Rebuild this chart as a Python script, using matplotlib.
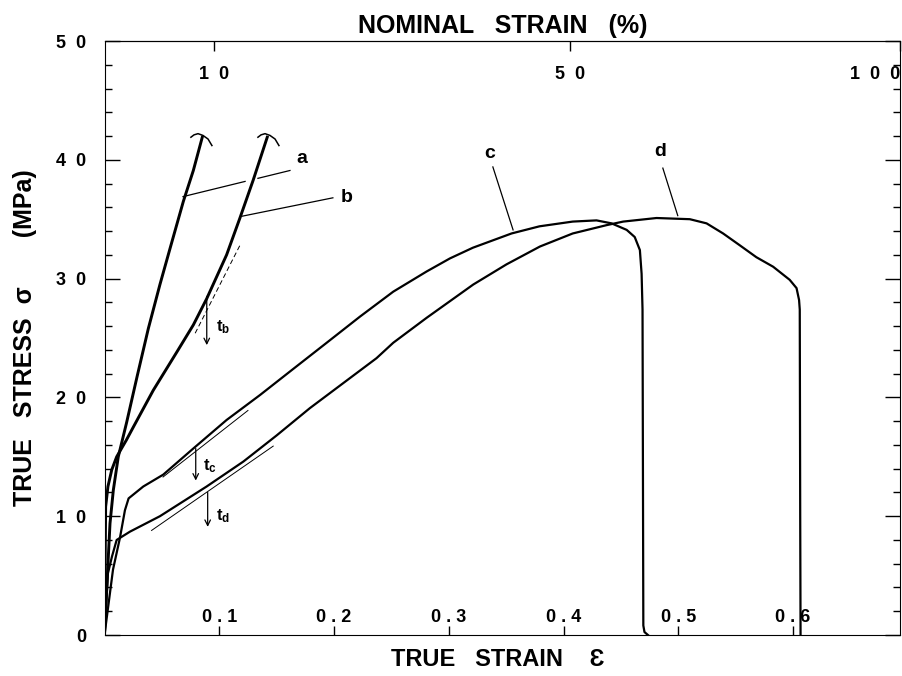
import numpy as np
import matplotlib
matplotlib.use('Agg')
import matplotlib.pyplot as plt
from matplotlib.ticker import MultipleLocator

plt.rcParams['font.family'] = ['Liberation Sans', 'DejaVu Sans']
plt.rcParams['font.weight'] = 'bold'
plt.rcParams['axes.labelweight'] = 'bold'

# true strain / true stress (MPa)
eps_a = [0, 0.0025, 0.0048, 0.0077, 0.012, 0.0193, 0.0285, 0.0382, 0.0483, 0.057, 0.0687, 0.0774, 0.0852]
sig_a = [0, 5.0, 9.4, 12.2, 15.0, 17.9, 21.8, 25.8, 29.5, 32.5, 36.5, 39.1, 41.9]

eps_b = [0, 0.001, 0.003, 0.0063, 0.0106, 0.019, 0.0251, 0.0425, 0.0629, 0.0774, 0.089,
         0.1064, 0.118, 0.1296, 0.1418]
sig_b = [0, 10.8, 12.5, 13.9, 15.0, 16.4, 17.5, 20.6, 23.8, 26.1, 28.3,
         32.0, 35.1, 38.3, 41.9]

eps_c = [0, 0.0074, 0.0135, 0.0178, 0.021, 0.0338, 0.0512, 0.0774, 0.1064, 0.1355, 0.1645,
         0.1936, 0.2226, 0.2516, 0.2807, 0.301, 0.321, 0.3547, 0.379, 0.408, 0.4287,
         0.4418, 0.455, 0.462, 0.4665, 0.468, 0.4688, 0.4695, 0.4705, 0.4735]
sig_c = [0, 5.5, 8.2, 10.5, 11.5, 12.5, 13.5, 15.7, 18.1, 20.2, 22.4,
         24.6, 26.8, 28.9, 30.6, 31.7, 32.6, 33.8, 34.4, 34.8, 34.9,
         34.65, 34.1, 33.5, 32.4, 30.4, 27.4, 0.8, 0.25, 0]

eps_d = [0, 0.003, 0.0065, 0.0106, 0.0222, 0.0483, 0.089, 0.121, 0.150, 0.179, 0.208, 0.237,
         0.2516, 0.2807, 0.301, 0.3213, 0.3503, 0.3794, 0.408, 0.4375, 0.452, 0.481, 0.51,
         0.5246, 0.539, 0.5536, 0.568, 0.5826, 0.597, 0.603, 0.6052, 0.6058, 0.6062, 0.6065]
sig_d = [0, 5.2, 6.6, 8.0, 8.7, 10.0, 12.5, 14.6, 16.8, 19.1, 21.2, 23.3,
         24.6, 26.7, 28.1, 29.5, 31.2, 32.7, 33.8, 34.5, 34.8, 35.1, 35.0,
         34.65, 33.8, 32.8, 31.8, 31.0, 29.9, 29.2, 28.2, 27.4, 10.0, 0]

strain_ticks = [0.1, 0.2, 0.3, 0.4, 0.5, 0.6]
strain_labels = ['0 . 1', '0 . 2', '0 . 3', '0 . 4', '0 . 5', '0 . 6']
stress_ticks = [0, 10, 20, 30, 40, 50]
stress_labels = ['0', '1  0', '2  0', '3  0', '4  0', '5  0']
nominal_ticks = [10, 50, 100]
nominal_labels = ['1  0', '5  0', '1  0  0']


def to_nominal(e):
    return (np.exp(e) - 1) * 100


def to_true(n):
    return np.log(np.clip(1 + np.asarray(n) / 100, 1e-6, None))


fig = plt.figure(figsize=(9.02, 6.76), dpi=100)
ax = fig.add_axes([104.5 / 902, 1 - 635 / 676, (900 - 104.5) / 902, (635 - 41) / 676])

ax.plot(eps_a, sig_a, color='black', lw=2.1, zorder=3)
ax.plot(eps_b, sig_b, color='black', lw=2.1, zorder=3)
ax.plot(eps_c, sig_c, color='black', lw=1.6, zorder=3)
ax.plot(eps_d, sig_d, color='black', lw=1.6, zorder=3)

ax.set_xlim(0, np.log(2))
ax.set_ylim(0, 50)

# little caps at the fracture points of a and b
cap_e = np.array([0.0753, 0.0780, 0.0815, 0.0858, 0.0902, 0.0936])
cap_s = np.array([41.9, 42.1, 42.2, 42.05, 41.75, 41.2])
ax.plot(cap_e, cap_s, color='black', lw=1.1)
ax.plot(cap_e + 0.0584, cap_s, color='black', lw=1.1)

# leader lines and curve labels
ax.plot([0.0684, 0.1225], [36.9, 38.18], color='black', lw=0.9)
ax.plot([0.1337, 0.1616], [38.44, 39.1], color='black', lw=0.9)
ax.plot([0.1198, 0.199], [35.25, 36.8], color='black', lw=0.9)
ax.plot([0.3384, 0.356], [39.4, 34.1], color='black', lw=0.9)
ax.plot([0.4865, 0.4995], [39.3, 35.3], color='black', lw=0.9)
ax.text(0.172, 40.1, 'a', fontsize=14, ha='center', va='center')
ax.text(0.211, 36.8, 'b', fontsize=14, ha='center', va='center')
ax.text(0.336, 40.5, 'c', fontsize=14, ha='center', va='center')
ax.text(0.484, 40.7, 'd', fontsize=14, ha='center', va='center')

# tangent lines
ax.plot([0.079, 0.118], [25.4, 32.8], color='black', lw=0.7, ls=(0, (5, 3)))
ax.plot([0.051, 0.125], [13.3, 18.9], color='black', lw=0.7)
ax.plot([0.041, 0.147], [8.8, 15.9], color='black', lw=0.7)

# transition arrows
arr = dict(arrowstyle='->', lw=0.9, color='black', shrinkA=0, shrinkB=0)
ax.annotate('', xy=(0.0891, 24.4), xytext=(0.0891, 28.5), arrowprops=arr)
ax.annotate('', xy=(0.0795, 13.0), xytext=(0.0795, 15.7), arrowprops=arr)
ax.annotate('', xy=(0.0899, 9.1), xytext=(0.0899, 12.0), arrowprops=arr)
ax.text(0.097, 25.9, r'$\mathregular{t_b}$', fontsize=12, va='center')
ax.text(0.086, 14.2, r'$\mathregular{t_c}$', fontsize=12, va='center')
ax.text(0.097, 10.0, r'$\mathregular{t_d}$', fontsize=12, va='center')

ax.set_xticks(strain_ticks)
ax.set_xticklabels(strain_labels)
ax.set_yticks(stress_ticks)
ax.set_yticklabels(stress_labels)
ax.yaxis.set_minor_locator(MultipleLocator(2))
ax.tick_params(axis='y', which='both', direction='in', left=True, right=True, labelsize=13, pad=13)
ax.tick_params(axis='y', which='major', length=11, width=1)
ax.tick_params(axis='y', which='minor', length=5, width=1)
ax.tick_params(axis='x', which='major', direction='in', length=6.5, width=1, pad=-19, labelsize=13)

secax = ax.secondary_xaxis('top', functions=(to_nominal, to_true))
secax.set_xticks(nominal_ticks)
secax.set_xticklabels(nominal_labels)
secax.tick_params(direction='in', length=7.5, width=1, pad=-30, labelsize=13)
secax.get_xticklabels()[-1].set_ha('right')
secax.set_xlabel('NOMINAL   STRAIN   (%)', fontsize=18, labelpad=6)

ax.set_ylabel('TRUE   STRESS  σ       (MPa)', fontsize=18)
ax.yaxis.set_label_coords(-0.085, 0.5)
ax.set_xlabel('TRUE   STRAIN    Ɛ', fontsize=17)
ax.xaxis.set_label_coords(0.494, -0.022)

fig.savefig('out.png', dpi=100)
